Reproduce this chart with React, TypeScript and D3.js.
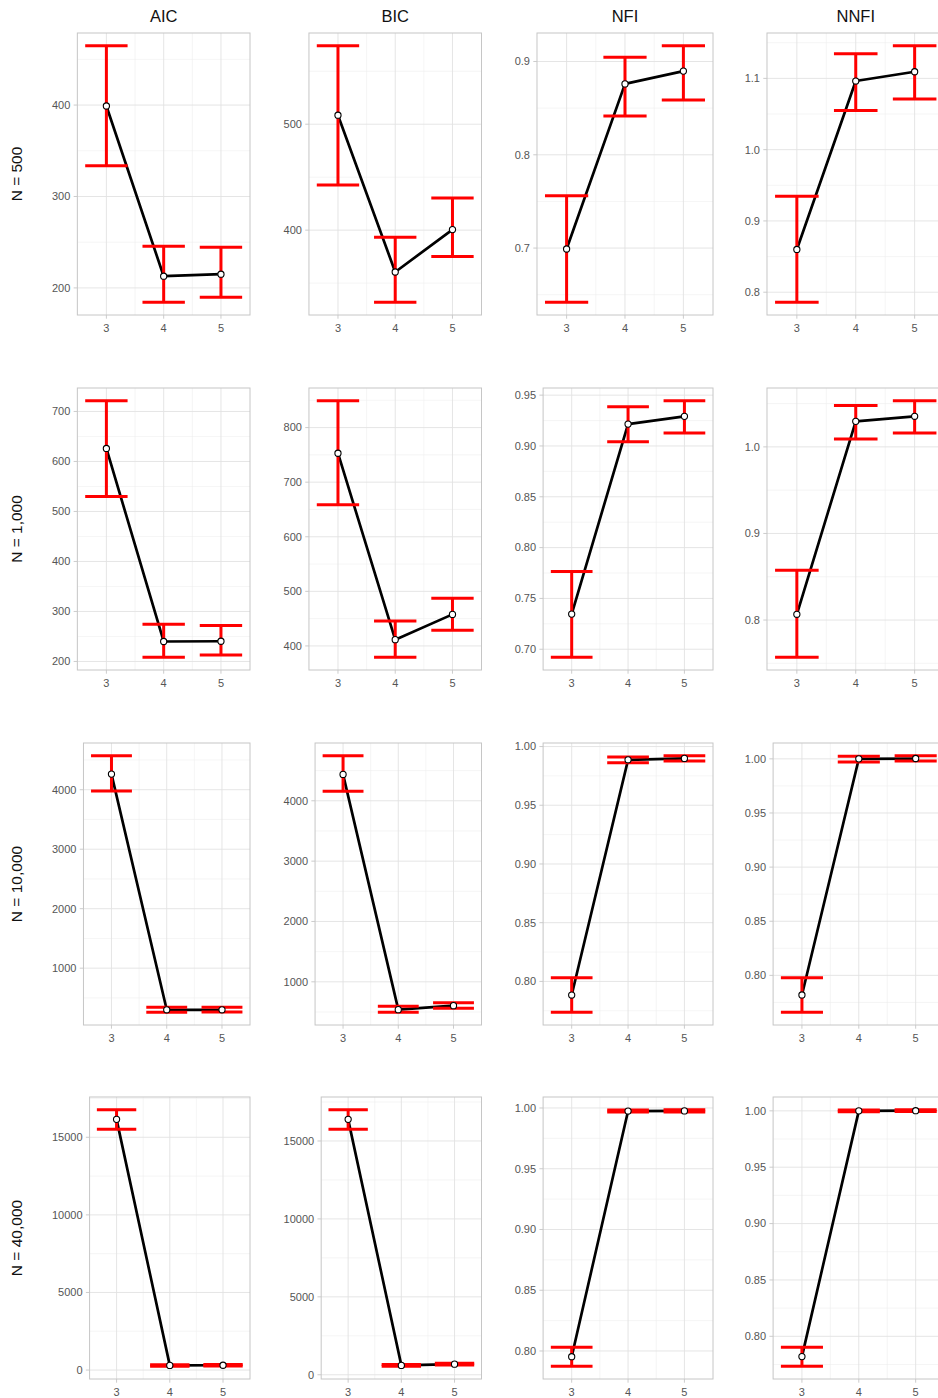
import React from "react";
import * as d3 from "d3";

// ---- Data ----
const metrics = ["AIC", "BIC", "NFI", "NNFI"];
const sampleSizes = ["N = 500", "N = 1,000", "N = 10,000", "N = 40,000"];
const factors = [3, 4, 5];

// each metric: rows = sample sizes, columns = factors 3,4,5
const aicMean = [[399, 212.8, 215], [626, 240, 240.5], [4263, 300, 300], [16154, 300, 310]];
const aicLower = [[333.7, 184.4, 189.8], [530, 208.6, 213.2], [3978, 260, 262], [15513, 250, 260]];
const aicUpper = [[464.8, 245.6, 244.5], [721.3, 274.5, 271.9], [4570, 345, 345], [16769, 350, 360]];

const bicMean = [[508.5, 360.5, 400.5], [753, 411.5, 457.8], [4437, 539, 605], [16387, 600, 680]];
const bicLower = [[442.6, 332, 375.2], [658.6, 379.4, 428.6], [4158, 497, 562], [15747, 550, 620]];
const bicUpper = [[574, 393.4, 430.4], [849, 445.6, 487.2], [4745, 595, 655], [17000, 660, 740]];

const nfiMean = [[0.699, 0.876, 0.8897], [0.7346, 0.9215, 0.9291], [0.7884, 0.9887, 0.9899], [0.7953, 0.9975, 0.9976]];
const nfiLower = [[0.642, 0.8416, 0.8587], [0.6922, 0.9042, 0.9128], [0.7738, 0.9862, 0.9876], [0.7875, 0.9967, 0.9968]];
const nfiUpper = [[0.756, 0.9046, 0.9168], [0.7765, 0.9385, 0.9444], [0.8031, 0.991, 0.9921], [0.803, 0.9984, 0.9985]];

const nnfiMean = [[0.86, 1.0963, 1.1093], [0.8066, 1.0295, 1.0353], [0.7819, 1.0, 1.0003], [0.782, 1.0, 1.0001]];
const nnfiLower = [[0.786, 1.0549, 1.0711], [0.7571, 1.0092, 1.0161], [0.766, 0.9972, 0.9979], [0.7735, 0.9992, 0.9993]];
const nnfiUpper = [[0.9345, 1.1345, 1.1457], [0.8575, 1.0479, 1.0532], [0.7979, 1.0025, 1.0028], [0.7903, 1.0008, 1.0009]];

// y tick labels per metric / sample size
const aicTicks = [["200", "300", "400"], ["200", "300", "400", "500", "600", "700"], ["1000", "2000", "3000", "4000"], ["0", "5000", "10000", "15000"]];
const bicTicks = [["400", "500"], ["400", "500", "600", "700", "800"], ["1000", "2000", "3000", "4000"], ["0", "5000", "10000", "15000"]];
const nfiTicks = [["0.7", "0.8", "0.9"], ["0.70", "0.75", "0.80", "0.85", "0.90", "0.95"], ["0.80", "0.85", "0.90", "0.95", "1.00"], ["0.80", "0.85", "0.90", "0.95", "1.00"]];
const nnfiTicks = [["0.8", "0.9", "1.0", "1.1"], ["0.8", "0.9", "1.0"], ["0.80", "0.85", "0.90", "0.95", "1.00"], ["0.80", "0.85", "0.90", "0.95", "1.00"]];

const xTickLabels = ["3", "4", "5"];

const table = [
  { mean: aicMean, lower: aicLower, upper: aicUpper, ticks: aicTicks },
  { mean: bicMean, lower: bicLower, upper: bicUpper, ticks: bicTicks },
  { mean: nfiMean, lower: nfiLower, upper: nfiUpper, ticks: nfiTicks },
  { mean: nnfiMean, lower: nnfiLower, upper: nnfiUpper, ticks: nnfiTicks },
];

// ---- Layout ----
const W = 938;
const H = 1398;
const rowTops = [33, 388, 743, 1097];
const panelH = 282;
const colRight = [250, 481.5, 713, 944.5];
const labelStart = [51, 282.6, 513.7, 743.7];
const tickFont = 11;
const labelGap = 8;
const errWidth = 0.74;

const FONT = "'Liberation Sans', Arial, Helvetica, sans-serif";

function textWidth(s: string, size: number) {
  let w = 0;
  for (const ch of s) w += ch === "." || ch === "," ? 0.278 : 0.556;
  return w * size;
}

function Panel({ r, c }: { r: number; c: number }) {
  const m = table[c];
  const mean = m.mean[r];
  const lower = m.lower[r];
  const upper = m.upper[r];
  const tickLabels = m.ticks[r];
  const tickVals = tickLabels.map((t) => parseFloat(t));

  const maxW = d3.max(tickLabels, (t) => textWidth(t, tickFont)) as number;
  const left = labelStart[c] + maxW + labelGap;
  const right = colRight[c];
  const top = rowTops[r];
  const bottom = top + panelH;

  const lo = d3.min(lower) as number;
  const hi = d3.max(upper) as number;
  const pad = (hi - lo) * 0.05;
  const y = d3.scaleLinear().domain([lo - pad, hi + pad]).range([bottom, top]);

  const xlo = 3 - errWidth / 2;
  const xhi = 5 + errWidth / 2;
  const xpad = (xhi - xlo) * 0.05;
  const x = d3.scaleLinear().domain([xlo - xpad, xhi + xpad]).range([left, right]);

  const step = tickVals.length > 1 ? tickVals[1] - tickVals[0] : 100;
  const minors: number[] = [];
  for (let i = -1; i < tickVals.length; i++) {
    const v = (i < 0 ? tickVals[0] - step : tickVals[i]) + step / 2;
    if (v > y.domain()[0] && v < y.domain()[1]) minors.push(v);
  }
  const xMinors = [3.5, 4.5];

  const pts = factors.map((f, i) => ({ f, m: mean[i], lo: lower[i], hi: upper[i] }));
  const line = d3
    .line<{ f: number; m: number }>()
    .x((d) => x(d.f))
    .y((d) => y(d.m));

  const half = (x(errWidth) - x(0)) / 2;

  return (
    <g>
      <clipPath id={`clip-${r}-${c}`}>
        <rect x={left} y={top} width={right - left} height={bottom - top} />
      </clipPath>
      <g clipPath={`url(#clip-${r}-${c})`}>
        {minors.map((v) => (
          <line key={"ym" + v} x1={left} x2={right} y1={y(v)} y2={y(v)} stroke="#efefef" strokeWidth={0.6} />
        ))}
        {xMinors.map((v) => (
          <line key={"xm" + v} x1={x(v)} x2={x(v)} y1={top} y2={bottom} stroke="#efefef" strokeWidth={0.6} />
        ))}
        {tickVals.map((v) => (
          <line key={"yM" + v} x1={left} x2={right} y1={y(v)} y2={y(v)} stroke="#e2e2e2" strokeWidth={0.9} />
        ))}
        {factors.map((v) => (
          <line key={"xM" + v} x1={x(v)} x2={x(v)} y1={top} y2={bottom} stroke="#e2e2e2" strokeWidth={0.9} />
        ))}
        <path d={line(pts) as string} fill="none" stroke="#000" strokeWidth={2.7} strokeLinejoin="round" />
        {pts.map((p) => (
          <g key={"e" + p.f} stroke="#ff0000" strokeWidth={3}>
            <line x1={x(p.f)} x2={x(p.f)} y1={y(p.lo)} y2={y(p.hi)} />
            <line x1={x(p.f) - half} x2={x(p.f) + half} y1={y(p.lo)} y2={y(p.lo)} />
            <line x1={x(p.f) - half} x2={x(p.f) + half} y1={y(p.hi)} y2={y(p.hi)} />
          </g>
        ))}
        {pts.map((p) => (
          <circle key={"p" + p.f} cx={x(p.f)} cy={y(p.m)} r={3.1} fill="#fff" stroke="#000" strokeWidth={1.1} />
        ))}
      </g>
      <rect x={left} y={top} width={right - left} height={bottom - top} fill="none" stroke="#c6c6c6" strokeWidth={1} />
      {tickVals.map((v, i) => (
        <g key={"yt" + v}>
          <line x1={left - 3.7} x2={left} y1={y(v)} y2={y(v)} stroke="#c6c6c6" strokeWidth={0.9} />
          <text x={left - labelGap + 1} y={y(v)} dy="0.35em" textAnchor="end" fontSize={tickFont} fill="#555" fontFamily={FONT}>
            {tickLabels[i]}
          </text>
        </g>
      ))}
      {factors.map((v, i) => (
        <g key={"xt" + v}>
          <line x1={x(v)} x2={x(v)} y1={bottom} y2={bottom + 3.7} stroke="#c6c6c6" strokeWidth={0.9} />
          <text x={x(v)} y={bottom + 16.5} textAnchor="middle" fontSize={tickFont} fill="#555" fontFamily={FONT}>
            {xTickLabels[i]}
          </text>
        </g>
      ))}
    </g>
  );
}

export default function App() {
  const titleCenters = metrics.map((_, c) => {
    const maxW = d3.max(table[c].ticks[0], (t) => textWidth(t, tickFont)) as number;
    const left = labelStart[c] + maxW + labelGap;
    return (left + colRight[c]) / 2;
  });
  return (
    <svg
      width={W}
      height={H}
      viewBox={`0 0 ${W} ${H}`}
      style={{ position: "absolute", left: 0, top: 0, background: "#fff" }}
    >
      <rect x={0} y={0} width={W} height={H} fill="#fff" />
      {metrics.map((m, c) => (
        <text key={m} x={titleCenters[c]} y={22} textAnchor="middle" fontSize={16.5} fill="#111" fontFamily={FONT}>
          {m}
        </text>
      ))}
      {sampleSizes.map((s, r) => {
        const cy = rowTops[r] + panelH / 2;
        return (
          <text
            key={s}
            transform={`translate(21.5, ${cy}) rotate(-90)`}
            textAnchor="middle"
            fontSize={15.5}
            fill="#111"
            fontFamily={FONT}
          >
            {s}
          </text>
        );
      })}
      {sampleSizes.map((_, r) => metrics.map((_, c) => <Panel key={`${r}-${c}`} r={r} c={c} />))}
    </svg>
  );
}
